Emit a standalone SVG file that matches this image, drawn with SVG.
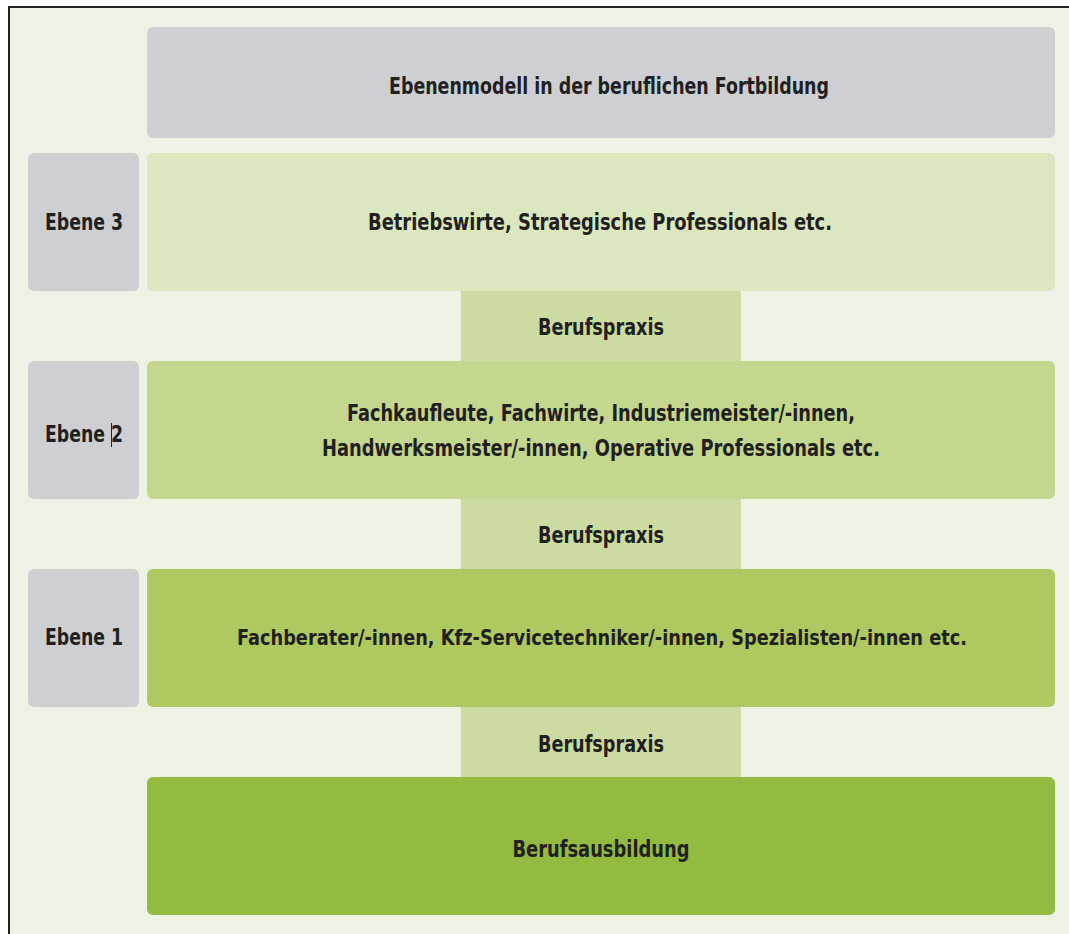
<svg xmlns="http://www.w3.org/2000/svg" width="1069" height="934" viewBox="0 0 1069 934">
  <style>
    .t { font-family: "Liberation Sans Narrow", "DejaVu Sans Condensed", "Liberation Sans", sans-serif; font-weight: bold; font-size: 23px; fill: #231f20; text-anchor: middle; }
    .long { font-size: 21px; }
    .grey { fill: #cdcfd3; }
    .l3 { fill: #dbe7bf; }
    .l2 { fill: #c4d78e; }
    .l1 { fill: #adc960; }
    .l0 { fill: #92bb40; }
    .bp { fill: #cbdba1; }
  </style>

  <!-- page background and frame -->
  <rect x="0" y="0" width="1069" height="934" fill="#ffffff"/>
  <rect x="9" y="8" width="1060" height="926" fill="#eef2e4"/>
  <line x1="8" y1="7" x2="1069" y2="7" stroke="#222" stroke-width="2"/>
  <line x1="9" y1="7" x2="9" y2="934" stroke="#222" stroke-width="2"/>

  <!-- experience bands between levels -->
  <g id="connectors">
    <g id="praxis-3-2">
      <rect class="bp" x="461" y="289" width="280" height="74"/>
      <text class="t" x="601" y="335" textLength="126" lengthAdjust="spacingAndGlyphs">Berufspraxis</text>
    </g>
    <g id="praxis-2-1">
      <rect class="bp" x="461" y="497" width="280" height="74"/>
      <text class="t" x="601" y="543" textLength="126" lengthAdjust="spacingAndGlyphs">Berufspraxis</text>
    </g>
    <g id="praxis-1-0">
      <rect class="bp" x="461" y="705" width="280" height="74"/>
      <text class="t" x="601" y="752" textLength="126" lengthAdjust="spacingAndGlyphs">Berufspraxis</text>
    </g>
  </g>

  <g id="title">
    <rect class="grey" x="147" y="27" width="908" height="111" rx="6"/>
    <text class="t" x="609" y="94" textLength="440" lengthAdjust="spacingAndGlyphs">Ebenenmodell in der beruflichen Fortbildung</text>
  </g>

  <g id="ebene3-label">
    <rect class="grey" x="28" y="153" width="111" height="138" rx="6"/>
    <text class="t" x="84" y="230" textLength="78" lengthAdjust="spacingAndGlyphs">Ebene 3</text>
  </g>
  <g id="ebene3">
    <rect class="l3" x="147" y="153" width="908" height="138" rx="6"/>
    <text class="t" x="600" y="230" textLength="464" lengthAdjust="spacingAndGlyphs">Betriebswirte, Strategische Professionals etc.</text>
  </g>

  <g id="ebene2-label">
    <rect class="grey" x="28" y="361" width="111" height="138" rx="6"/>
    <text class="t" x="84" y="442" textLength="78" lengthAdjust="spacingAndGlyphs">Ebene 2</text>
    <line x1="111.5" y1="423" x2="111.5" y2="447" stroke="#231f20" stroke-width="1"/>
  </g>
  <g id="ebene2">
    <rect class="l2" x="147" y="361" width="908" height="138" rx="6"/>
    <text class="t" x="601" y="421" textLength="508" lengthAdjust="spacingAndGlyphs">Fachkaufleute, Fachwirte, Industriemeister/-innen,</text>
    <text class="t" x="601" y="456" textLength="558" lengthAdjust="spacingAndGlyphs">Handwerksmeister/-innen, Operative Professionals etc.</text>
  </g>

  <g id="ebene1-label">
    <rect class="grey" x="28" y="569" width="111" height="138" rx="6"/>
    <text class="t" x="84" y="645" textLength="78" lengthAdjust="spacingAndGlyphs">Ebene 1</text>
  </g>
  <g id="ebene1">
    <rect class="l1" x="147" y="569" width="908" height="138" rx="6"/>
    <text class="t long" x="602" y="645" textLength="730" lengthAdjust="spacingAndGlyphs">Fachberater/-innen, Kfz-Servicetechniker/-innen, Spezialisten/-innen etc.</text>
  </g>

  <g id="berufsausbildung">
    <rect class="l0" x="147" y="777" width="908" height="138" rx="6"/>
    <text class="t" x="601" y="857" textLength="177" lengthAdjust="spacingAndGlyphs">Berufsausbildung</text>
  </g>
</svg>
